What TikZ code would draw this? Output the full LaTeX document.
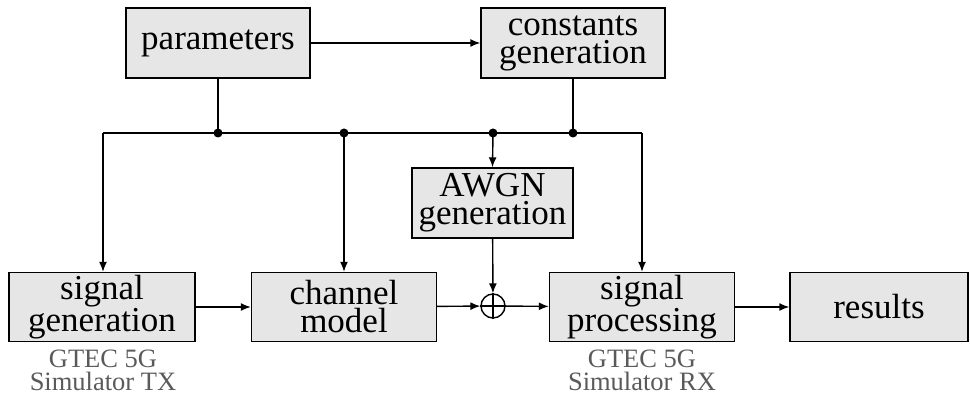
\documentclass[tikz,border=0pt]{standalone}
\usepackage{fontspec}
\setmainfont{Liberation Serif}
\usetikzlibrary{arrows.meta}
\definecolor{boxfill}{RGB}{230,230,230}
\definecolor{labgray}{RGB}{90,90,90}
\tikzset{
  blk/.style={draw, fill=boxfill, line width=1.4pt, inner sep=0pt, align=center,
    font=\fontsize{35}{28}\selectfont},
  conn/.style={line width=1.4pt, -{Latex[length=10pt,width=8pt]}},
  wire/.style={line width=1.4pt},
  dotn/.style={circle, fill=black, inner sep=0pt, minimum size=9pt},
  sumn/.style={circle, draw, line width=1.4pt, inner sep=0pt, minimum size=24pt},
  lab/.style={text=labgray, align=center, inner sep=0pt, font=\fontsize{26.5}{23}\selectfont}
}
\begin{document}
\begin{tikzpicture}[x=1pt,y=-1pt]
\useasboundingbox (0,0) rectangle (970,398);
\node[blk, minimum width=184pt, minimum height=70pt] (par) at (218,43) {parameters};
\node[blk, minimum width=184pt, minimum height=70pt] (con) at (573,43) {constants\\generation};
\node[blk, minimum width=161pt, minimum height=70pt] (awgn) at (492.5,203) {AWGN\\generation};
\node[blk, minimum width=186pt, minimum height=69pt] (sg) at (102,307) {signal\\generation};
\node[blk, minimum width=185pt, minimum height=69pt] (cm) at (344,307) {channel\\model};
\node[blk, minimum width=185pt, minimum height=69pt] (sp) at (642,307) {signal\\processing};
\node[blk, minimum width=178pt, minimum height=69pt] (res) at (879,307) {results};
\node[sumn] (add) at (493,306) {};
\coordinate (bl) at (103,133);
\coordinate (br) at (642,133);
\node[dotn] (j1) at (218,133) {};
\node[dotn] (j2) at (344,133) {};
\node[dotn] (j3) at (493,133) {};
\node[dotn] (j4) at (573,133) {};
\draw[wire] (add.north) -- (add.south);
\draw[wire] (add.west) -- (add.east);
\draw[conn] (par) -- (con);
\draw[wire] (par.south) -- (j1.center);
\draw[wire] (con.south -| j4) -- (j4.center);
\draw[wire] (bl) -- (br);
\draw[conn] (bl) -- (bl |- sg.north);
\draw[conn] (j2.center) -- (cm.north);
\draw[conn] (j3.center) -- (awgn.north);
\draw[conn] (br) -- (sp.north);
\draw[conn] (awgn) -- (add);
\draw[conn] (sg) -- (cm);
\draw[conn] (cm) -- (add);
\draw[conn] (add) -- (sp);
\draw[conn] (sp) -- (res);
\node[lab, anchor=north] (tx) at (103,350) {GTEC 5G\\Simulator TX};
\node[lab, anchor=north] (rx) at (642,350) {GTEC 5G\\Simulator RX};
\end{tikzpicture}
\end{document}
